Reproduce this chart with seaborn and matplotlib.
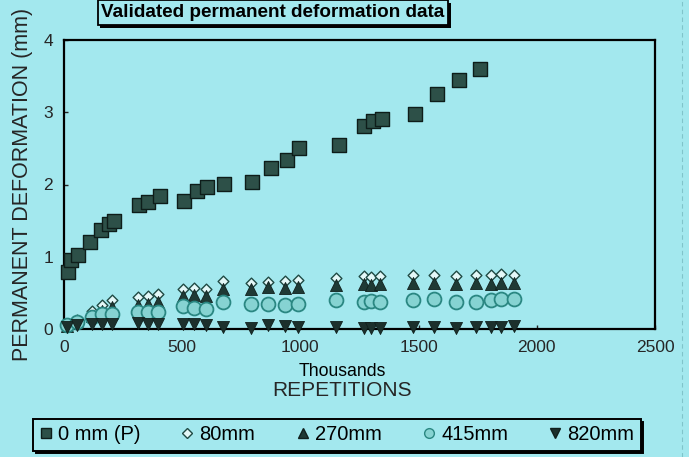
import numpy as np
import pandas as pd
import matplotlib
matplotlib.use("Agg")
import matplotlib.pyplot as plt
import matplotlib.ticker as ticker
import matplotlib.patheffects as pe
from matplotlib.lines import Line2D
import seaborn as sns

# repetitions (thousands) and permanent deformation (mm)
rep_0mm = [17, 31, 59, 108, 157, 190, 210, 319, 357, 406, 509, 561, 606, 678, 797,
           874, 945, 994, 1163, 1270, 1307, 1346, 1485, 1578, 1669, 1760]
def_0mm = [0.79, 0.96, 1.02, 1.21, 1.37, 1.45, 1.50, 1.71, 1.76, 1.84, 1.77, 1.91, 1.97,
           2.01, 2.04, 2.23, 2.34, 2.50, 2.54, 2.81, 2.88, 2.91, 2.97, 3.25, 3.44, 3.60]

rep = [13, 55, 118, 160, 203, 312, 354, 396, 502, 551, 599, 674, 793, 864, 934, 990,
       1152, 1271, 1300, 1335, 1475, 1567, 1658, 1743, 1806, 1848, 1904]
def_80mm = [0.06, 0.12, 0.25, 0.33, 0.40, 0.44, 0.46, 0.48, 0.56, 0.57, 0.56, 0.66, 0.64,
            0.65, 0.66, 0.68, 0.70, 0.74, 0.72, 0.74, 0.75, 0.75, 0.74, 0.75, 0.75, 0.76, 0.75]
def_270mm = [0.04, 0.10, 0.18, 0.25, 0.30, 0.33, 0.35, 0.37, 0.46, 0.47, 0.45, 0.55, 0.56,
             0.58, 0.57, 0.58, 0.61, 0.62, 0.61, 0.62, 0.63, 0.63, 0.62, 0.63, 0.62, 0.64, 0.63]
def_415mm = [0.05, 0.10, 0.17, 0.21, 0.21, 0.24, 0.24, 0.24, 0.32, 0.29, 0.27, 0.38, 0.35,
             0.35, 0.33, 0.35, 0.40, 0.38, 0.39, 0.38, 0.40, 0.41, 0.38, 0.38, 0.40, 0.41, 0.41]
def_820mm = [0.03, 0.06, 0.07, 0.07, 0.07, 0.08, 0.07, 0.07, 0.07, 0.07, 0.06, 0.03, 0.02,
             0.05, 0.04, 0.03, 0.03, 0.01, 0.01, 0.01, 0.03, 0.03, 0.02, 0.03, 0.03, 0.03, 0.04]

labels = ["0 mm (P)", "80mm", "270mm", "415mm", "820mm"]

BG = "#a3e8ee"

sns.set_theme(style="ticks", rc={"axes.facecolor": BG, "figure.facecolor": BG,
                                 "axes.edgecolor": "black", "axes.linewidth": 1.6})
plt.rcParams["font.family"] = ["Liberation Sans", "DejaVu Sans"]
plt.rcParams["text.color"] = "black"

fig = plt.figure(figsize=(6.89, 4.57), dpi=100)
ax = fig.add_axes([64 / 689, 1 - 329 / 457, 591 / 689, 289 / 457])

# marker styles
sty = {
    "80mm": dict(marker="D", s=30, color="#e4f8f8", edgecolor="#1f4a44", linewidth=1.0),
    "270mm": dict(marker="^", s=75, color="#1f3a35", edgecolor="#10201d", linewidth=0.6),
    "415mm": dict(marker="o", s=100, color="#86d3d2", edgecolor="#2a8782", linewidth=1.3),
    "820mm": dict(marker="v", s=75, color="#1c302c", edgecolor="#10201d", linewidth=0.6),
    "0 mm (P)": dict(marker="s", s=110, color="#2d5048", edgecolor="#0e1d1a", linewidth=1.0),
}

sns.scatterplot(x=rep, y=def_80mm, ax=ax, clip_on=False, zorder=3, legend=False, **sty["80mm"])
sns.scatterplot(x=rep, y=def_270mm, ax=ax, clip_on=False, zorder=4, legend=False, **sty["270mm"])
sns.scatterplot(x=rep, y=def_415mm, ax=ax, clip_on=False, zorder=4, legend=False, **sty["415mm"])
sns.scatterplot(x=rep, y=def_820mm, ax=ax, clip_on=False, zorder=4, legend=False, **sty["820mm"])
sns.scatterplot(x=rep_0mm, y=def_0mm, ax=ax, clip_on=False, zorder=5, legend=False, **sty["0 mm (P)"])

ax.set_xlim(0, 2500)
ax.set_ylim(0, 4)
ax.xaxis.set_major_locator(ticker.MultipleLocator(500))
ax.yaxis.set_major_locator(ticker.MultipleLocator(1))
ax.tick_params(direction="in", length=3, width=1, labelsize=12.5, pad=8)
for s in ax.spines.values():
    s.set_linewidth(1.6)

ax.set_ylabel("PERMANENT DEFORMATION (mm)", fontsize=15.5, va="center")
ax.yaxis.set_label_coords(-0.07, 0.5)
ax.set_xlabel("REPETITIONS", fontsize=15, va="center")
ax.xaxis.set_label_coords((342 - 64) / 591, (329 - 391) / 289)
fig.text(342 / 689, 1 - 372 / 457, "Thousands", ha="center", va="center", fontsize=12.7)

# title box at the top
t = fig.text(273 / 689, 1 - 17 / 457, "Validated permanent deformation data",
             ha="center", va="baseline", fontsize=13.6, fontweight="bold",
             bbox=dict(boxstyle="square,pad=0.2", fc=BG, ec="black", lw=1.3))
t.get_bbox_patch().set_path_effects([
    pe.SimplePatchShadow(offset=(2, -2), shadow_rgbFace="black", alpha=1), pe.Normal()])

# legend
handles = []
for lab in labels:
    st = sty[lab]
    handles.append(Line2D([], [], ls="none", marker=st["marker"],
                          ms=7 if st["marker"] != "D" else 5,
                          mfc=st["color"], mec=st["edgecolor"], mew=1.0))
leg = fig.legend(handles, labels, loc="center", bbox_to_anchor=(337 / 689, 1 - 435 / 457),
                 ncol=5, fontsize=14.5, handlelength=0.6, handletextpad=0.3,
                 columnspacing=2.05, borderpad=0.3, fancybox=False, framealpha=1,
                 shadow={"color": "black", "alpha": 1})
leg.get_frame().set_edgecolor("black")
leg.get_frame().set_facecolor(BG)
leg.get_frame().set_linewidth(1.4)

# faint dashed scan line on the right
fig.add_artist(Line2D([682 / 689, 682 / 689], [0, 1], transform=fig.transFigure,
                      color="#80c4ca", ls=(0, (4, 3)), lw=0.8))

plt.savefig("out.png", dpi=100)
